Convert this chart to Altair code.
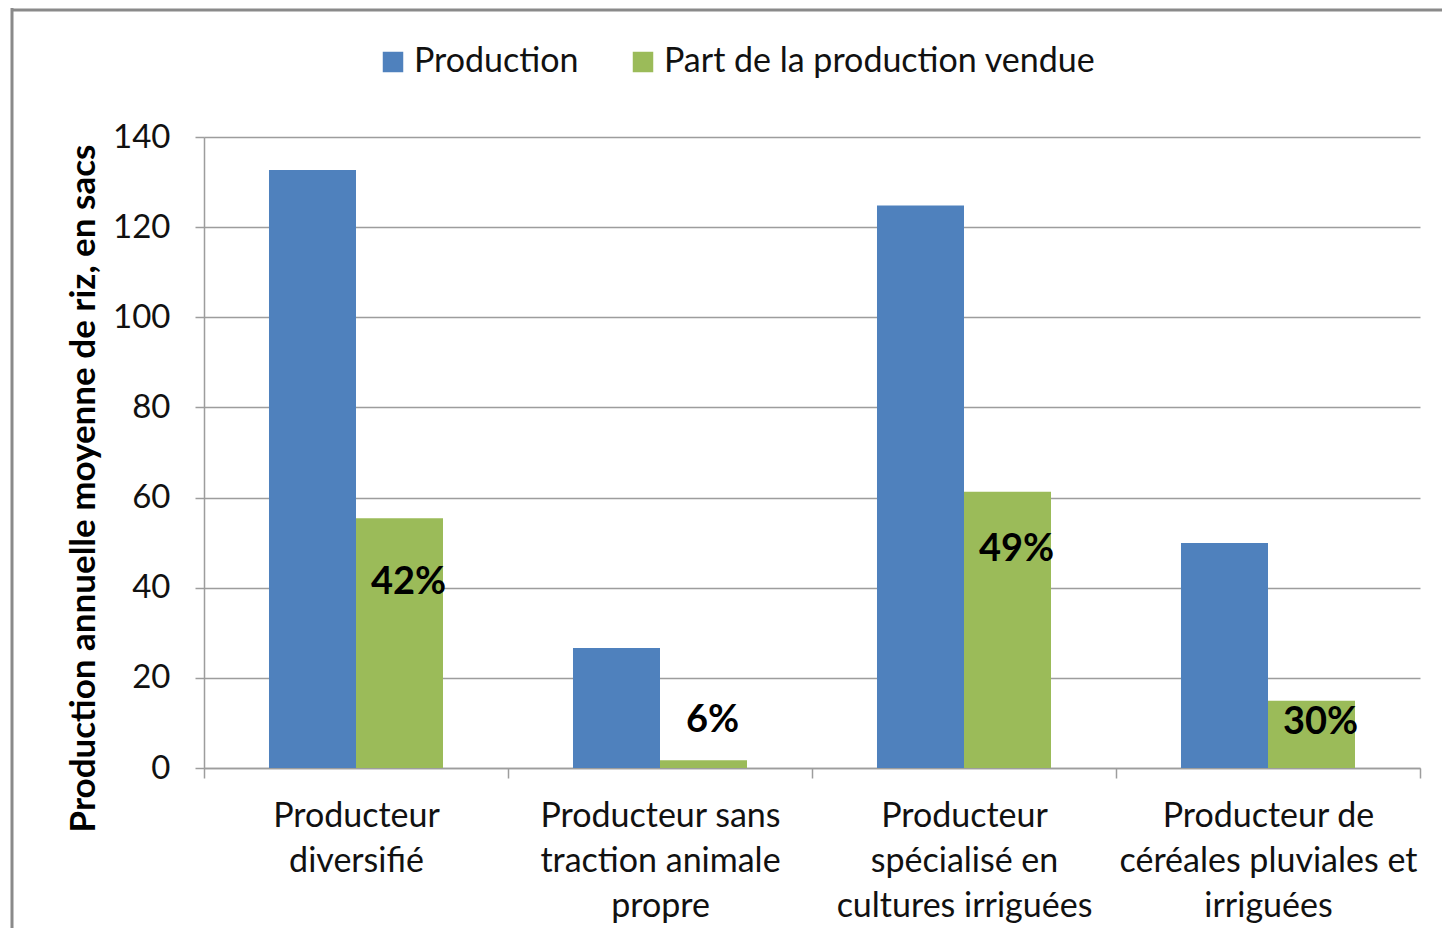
import altair as alt
import pandas as pd

categories = [
    "Producteur\ndiversifié",
    "Producteur sans\ntraction animale\npropre",
    "Producteur\nspécialisé en\ncultures irriguées",
    "Producteur de\ncéréales pluviales et\nirriguées",
]
series = ["Production", "Part de la production vendue"]
production = [132.7, 26.6, 124.8, 49.9]
vendue = [55.4, 1.7, 61.3, 14.9]
share_labels = ["42%", "6%", "49%", "30%"]
label_anchor = [41.0, 10.5, 48.4, 10.0]
y_ticks = [0, 20, 40, 60, 80, 100, 120, 140]

colors = ["#4F81BD", "#9BBB59"]
FONT = "Lato"
GRID = "#9d9d9d"

rows = []
for c, p, v in zip(categories, production, vendue):
    rows.append({"category": c, "series": series[0], "value": p})
    rows.append({"category": c, "series": series[1], "value": v})
df = pd.DataFrame(rows)

lab_df = pd.DataFrame({
    "category": categories,
    "series": [series[1]] * len(categories),
    "anchor": label_anchor,
    "label": share_labels,
})

x_enc = alt.X(
    "category:N", sort=categories, title=None,
    scale=alt.Scale(paddingInner=0, paddingOuter=0),
    axis=alt.Axis(
        tickBand="extent", grid=False, tickSize=10, tickColor=GRID, tickWidth=1.5,
        domainColor=GRID, domainWidth=1.5,
        labelExpr="split(datum.label, '\\n')", labelLineHeight=45,
        labelFont=FONT, labelFontSize=34, labelColor="#111111",
        labelPadding=21, labelAngle=0, labelLimit=600, labelOverlap=False,
    ),
)
xo_scale = alt.Scale(domain=series, paddingInner=0, paddingOuter=0.747)

bars = alt.Chart(df).mark_bar().encode(
    x=x_enc,
    xOffset=alt.XOffset("series:N", sort=series, scale=xo_scale),
    y=alt.Y(
        "value:Q",
        scale=alt.Scale(domain=[0, 140], nice=False),
        axis=alt.Axis(
            values=y_ticks, grid=True, gridColor=GRID, gridWidth=1.5,
            domainColor=GRID, domainWidth=1.5, tickColor=GRID, tickWidth=1.5, tickSize=9,
            labelFont=FONT, labelFontSize=33, labelColor="#111111", labelPadding=25,
            title="Production annuelle moyenne de riz, en sacs",
            titleFont=FONT, titleFontSize=35, titleFontWeight="bold", titleColor="#000000",
            titleAngle=270, titleX=-110, titleY=351, titleAlign="center",
            titleBaseline="alphabetic",
        ),
    ),
    color=alt.Color(
        "series:N", sort=series,
        scale=alt.Scale(domain=series, range=colors),
        legend=alt.Legend(
            orient="none", legendX=172, legendY=-92, direction="horizontal", title=None,
            symbolType="square", symbolSize=420, symbolStrokeWidth=0,
            labelFont=FONT, labelFontSize=34, labelColor="#111111", labelOffset=4,
            labelLimit=700, columnPadding=47, padding=0,
        ),
    ),
)

text = alt.Chart(lab_df).mark_text(
    font=FONT, fontSize=38, fontWeight="bold", color="#000000",
    align="center", baseline="middle", dx=9,
).encode(
    x=alt.X("category:N", sort=categories),
    xOffset=alt.XOffset("series:N", sort=series),
    y=alt.Y("anchor:Q"),
    text="label:N",
)

dummy = pd.DataFrame({"k": [0]})
frame_left = alt.Chart(dummy).mark_rule(color="#8a8a8a", strokeWidth=3).encode(
    x=alt.value(-192), y=alt.value(-129), y2=alt.value(830)
)
frame_top = alt.Chart(dummy).mark_rule(color="#8a8a8a", strokeWidth=3).encode(
    x=alt.value(-193), x2=alt.value(1260), y=alt.value(-127)
)

chart = alt.layer(bars, text, frame_left, frame_top).properties(
    width=1216, height=631,
    padding={"left": 196, "top": 129, "right": 22, "bottom": 160},
    autosize=alt.AutoSizeParams(type="none"),
).configure_view(stroke="transparent")

chart.save("out.html", embed_options={"renderer": "svg", "actions": False})
